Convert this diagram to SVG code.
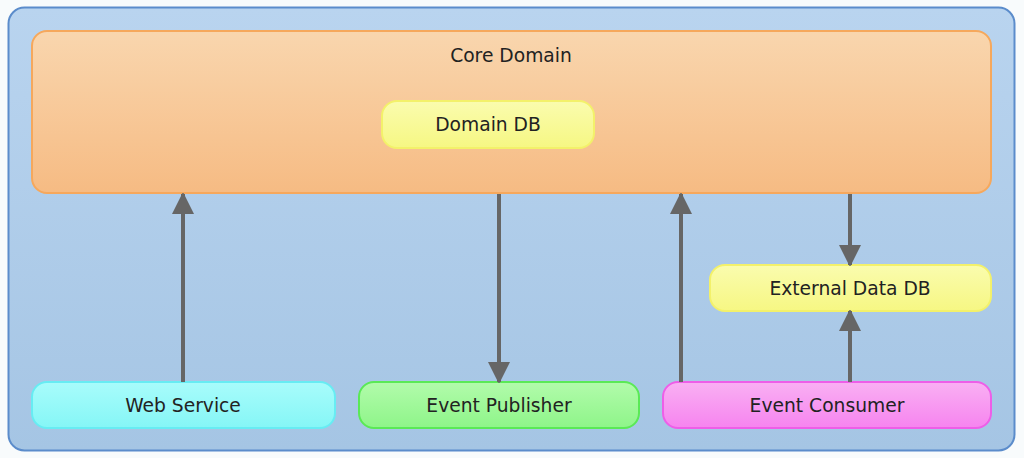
<svg xmlns="http://www.w3.org/2000/svg" width="1024" height="458" viewBox="0 0 1024 458">
<defs>
<linearGradient id="gBg" x1="0" y1="0" x2="0" y2="1"><stop offset="0" stop-color="#b9d4ef"/><stop offset="1" stop-color="#a5c5e4"/></linearGradient>
<linearGradient id="gCore" x1="0" y1="0" x2="0" y2="1"><stop offset="0" stop-color="#f9d6ae"/><stop offset="1" stop-color="#f6bb83"/></linearGradient>
<linearGradient id="gYel" x1="0" y1="0" x2="0" y2="1"><stop offset="0" stop-color="#fafcae"/><stop offset="1" stop-color="#f6f783"/></linearGradient>
<linearGradient id="gCyan" x1="0" y1="0" x2="0" y2="1"><stop offset="0" stop-color="#a8fcfb"/><stop offset="1" stop-color="#85f6f6"/></linearGradient>
<linearGradient id="gGreen" x1="0" y1="0" x2="0" y2="1"><stop offset="0" stop-color="#b2fbab"/><stop offset="1" stop-color="#8ef589"/></linearGradient>
<linearGradient id="gPink" x1="0" y1="0" x2="0" y2="1"><stop offset="0" stop-color="#f9b0f3"/><stop offset="1" stop-color="#f684ef"/></linearGradient>
<marker id="arr" viewBox="0 0 20 22" refX="20" refY="11" markerWidth="22" markerHeight="22" markerUnits="userSpaceOnUse" orient="auto"><path d="M0,0 L22,11 L0,22 Z" fill="#666666"/></marker>
</defs>
<style>
text{font-family:"DejaVu Sans",Verdana,sans-serif;font-size:18.7px;fill:#222222;text-anchor:middle}
.node{stroke-width:2}
.conn{stroke:#666666;stroke-width:4;fill:none}
</style>
<rect width="1024" height="458" fill="#f8fbfc"/>
<g id="container">
<rect x="8.5" y="7.5" width="1006" height="443" rx="16" fill="url(#gBg)" stroke="#5b8ccb" stroke-width="2"/>
</g>
<g id="core-domain">
<rect x="32" y="31" width="959" height="162" rx="15" fill="url(#gCore)" stroke="#f6a85c" class="node"/>
<text x="511" y="62">Core Domain</text>
</g>
<g id="domain-db">
<rect x="382" y="101" width="212" height="47" rx="15" fill="url(#gYel)" stroke="#f3f16a" class="node"/>
<text x="488" y="131">Domain DB</text>
</g>
<g id="external-data-db">
<rect x="710" y="265" width="281" height="46" rx="15" fill="url(#gYel)" stroke="#f3f16a" class="node"/>
<text x="850" y="295">External Data DB</text>
</g>
<g id="web-service">
<rect x="32" y="382" width="303" height="46" rx="15" fill="url(#gCyan)" stroke="#67ecf3" class="node"/>
<text x="183" y="412">Web Service</text>
</g>
<g id="event-publisher">
<rect x="359" y="382" width="280" height="46" rx="15" fill="url(#gGreen)" stroke="#5ae956" class="node"/>
<text x="499" y="412">Event Publisher</text>
</g>
<g id="event-consumer">
<rect x="663" y="382" width="328" height="46" rx="15" fill="url(#gPink)" stroke="#ee5ee8" class="node"/>
<text x="827" y="412">Event Consumer</text>
</g>
<g id="connectors">
<line class="conn" x1="183" y1="382" x2="183" y2="194" marker-end="url(#arr)"/>
<line class="conn" x1="499" y1="194" x2="499" y2="382" marker-end="url(#arr)"/>
<line class="conn" x1="681" y1="382" x2="681" y2="194" marker-end="url(#arr)"/>
<line class="conn" x1="850" y1="194" x2="850" y2="265" marker-end="url(#arr)"/>
<line class="conn" x1="850" y1="382" x2="850" y2="311" marker-end="url(#arr)"/>
</g>
</svg>
